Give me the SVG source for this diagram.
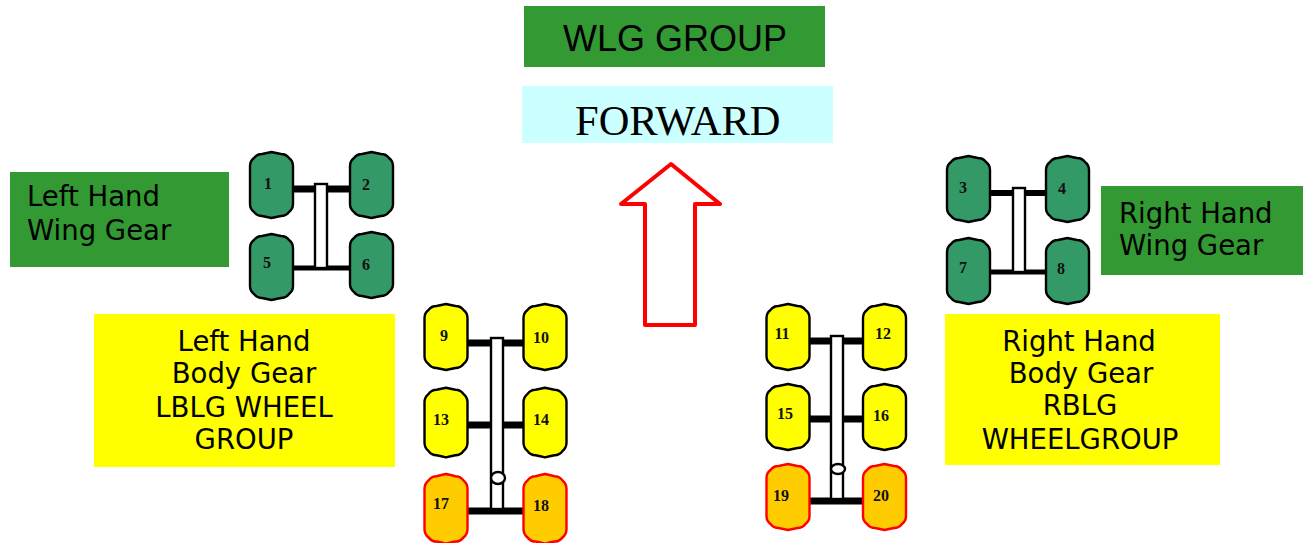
<svg xmlns="http://www.w3.org/2000/svg" xmlns:xlink="http://www.w3.org/1999/xlink" width="1303" height="543" viewBox="0 0 1303 543">
<style>
.lbl{font-family:"DejaVu Sans",Verdana,sans-serif;font-size:27.500px;fill:#000}
.num{font-family:"Liberation Serif","Times New Roman",serif;font-weight:bold;font-size:16px;fill:#111;text-anchor:middle}
.tire{stroke-width:2.400;stroke-linejoin:round}
.green{fill:#339966;stroke:#000}
.yellow{fill:#ffff00;stroke:#000}
.orange{fill:#ffcc00;stroke:#ff0000}
.strut{fill:#fff;stroke:#000;stroke-width:2.400}
.axle{stroke:#000;fill:none}
</style>
<defs>
<path id="t" d="M0,14Q0,9 4,6Q7,2 12,2Q17,1 21.500,0Q26,1 31,2Q36,2 39,6Q43,9 43,14V52Q43,57 39,60Q36,64 31,64Q26,65 21.500,66Q17,65 12,64Q7,64 4,60Q0,57 0,52Z"/>
</defs>
<rect width="1303" height="543" fill="#fff"/>

<g id="connectors">
<path class="axle" stroke-width="7" d="M293,189H350"/>
<path class="axle" stroke-width="5" d="M293,268H350"/>
<path class="axle" stroke-width="6" d="M990,193H1045"/>
<path class="axle" stroke-width="5" d="M990,272H1045"/>
<path class="axle" stroke-width="7" d="M468,343H523"/>
<path class="axle" stroke-width="7" d="M468,425H523"/>
<path class="axle" stroke-width="7" d="M468,511H523"/>
<path class="axle" stroke-width="7" d="M809,341H863"/>
<path class="axle" stroke-width="7" d="M809,419H863"/>
<path class="axle" stroke-width="7" d="M809,501H863"/>
<rect class="strut" x="315" y="184" width="12" height="84"/>
<rect class="strut" x="1013" y="188" width="12" height="84"/>
<rect class="strut" x="491" y="338" width="12" height="171"/>
<rect class="strut" x="831" y="336" width="12" height="163"/>
<ellipse class="strut" cx="498" cy="478" rx="7" ry="6"/>
<ellipse class="strut" cx="838" cy="469" rx="7" ry="5"/>
</g>

<g id="wlg-group"><rect x="524" y="6" width="301" height="61" fill="#339933"/><text x="563" y="51" font-family="Liberation Sans,Arial,sans-serif" font-size="36">WLG GROUP</text></g>
<g id="forward"><rect x="522" y="86" width="311" height="57" fill="#ccffff"/><text x="575" y="135" font-family="Liberation Serif,Times New Roman,serif" font-size="42.500">FORWARD</text></g>
<g id="arrow"><polygon points="671,164 720,204 695,204 695,325 645,325 645,204 621,204" fill="#fff" stroke="#ff0000" stroke-width="4" stroke-linejoin="round"/></g>

<g id="left-wing-label"><rect x="10" y="172" width="219" height="95" fill="#339933"/><text class="lbl" x="27" y="206">Left Hand</text><text class="lbl" x="27" y="240">Wing Gear</text></g>
<g id="right-wing-label"><rect x="1101" y="186" width="202" height="89" fill="#339933"/><text class="lbl" x="1119" y="223">Right Hand</text><text class="lbl" x="1119" y="255">Wing Gear</text></g>
<g id="left-body-label" text-anchor="middle"><rect x="94" y="314" width="301" height="153" fill="#ffff00"/><text class="lbl" x="244" y="351">Left Hand</text><text class="lbl" x="244" y="383">Body Gear</text><text class="lbl" x="244" y="417">LBLG WHEEL</text><text class="lbl" x="244" y="449">GROUP</text></g>
<g id="right-body-label" text-anchor="middle"><rect x="945" y="314" width="275" height="151" fill="#ffff00"/><text class="lbl" x="1079" y="351">Right Hand</text><text class="lbl" x="1081" y="383">Body Gear</text><text class="lbl" x="1080" y="415">RBLG</text><text class="lbl" x="1080" y="449">WHEELGROUP</text></g>

<g id="t1"><use href="#t" x="250" y="152" class="tire green"/><text class="num" x="268" y="189">1</text></g>
<g id="t2"><use href="#t" x="350" y="152" class="tire green"/><text class="num" x="366" y="190">2</text></g>
<g id="t3"><use href="#t" x="947" y="156" class="tire green"/><text class="num" x="963" y="193">3</text></g>
<g id="t4"><use href="#t" x="1046" y="156" class="tire green"/><text class="num" x="1062" y="194">4</text></g>
<g id="t5"><use href="#t" x="250" y="234" class="tire green"/><text class="num" x="267" y="268">5</text></g>
<g id="t6"><use href="#t" x="350" y="232" class="tire green"/><text class="num" x="366" y="270">6</text></g>
<g id="t7"><use href="#t" x="947" y="238" class="tire green"/><text class="num" x="963" y="273">7</text></g>
<g id="t8"><use href="#t" x="1046" y="238" class="tire green"/><text class="num" x="1061" y="274">8</text></g>
<g id="t9"><use href="#t" x="424.500" y="304" class="tire yellow"/><text class="num" x="444" y="341">9</text></g>
<g id="t10"><use href="#t" x="523.500" y="304" class="tire yellow"/><text class="num" x="541" y="343">10</text></g>
<g id="t11"><use href="#t" x="766.500" y="304" class="tire yellow"/><text class="num" x="782" y="339">11</text></g>
<g id="t12"><use href="#t" x="863" y="304" class="tire yellow"/><text class="num" x="883" y="339">12</text></g>
<g id="t13"><use href="#t" x="424.500" y="388" class="tire yellow" transform="translate(0 -21.600) scale(1 1.055)"/><text class="num" x="441" y="425">13</text></g>
<g id="t14"><use href="#t" x="523.500" y="388" class="tire yellow" transform="translate(0 -21.600) scale(1 1.055)"/><text class="num" x="541" y="425">14</text></g>
<g id="t15"><use href="#t" x="766.500" y="384" class="tire yellow"/><text class="num" x="785" y="419">15</text></g>
<g id="t16"><use href="#t" x="863" y="384" class="tire yellow"/><text class="num" x="881" y="421">16</text></g>
<g id="t17"><use href="#t" x="424.500" y="474" class="tire orange" transform="translate(0 -26) scale(1 1.055)"/><text class="num" x="441" y="509">17</text></g>
<g id="t18"><use href="#t" x="523.500" y="474" class="tire orange" transform="translate(0 -26) scale(1 1.055)"/><text class="num" x="541" y="511">18</text></g>
<g id="t19"><use href="#t" x="766.500" y="464" class="tire orange"/><text class="num" x="781" y="501">19</text></g>
<g id="t20"><use href="#t" x="863" y="464" class="tire orange"/><text class="num" x="881" y="501">20</text></g>
</svg>
